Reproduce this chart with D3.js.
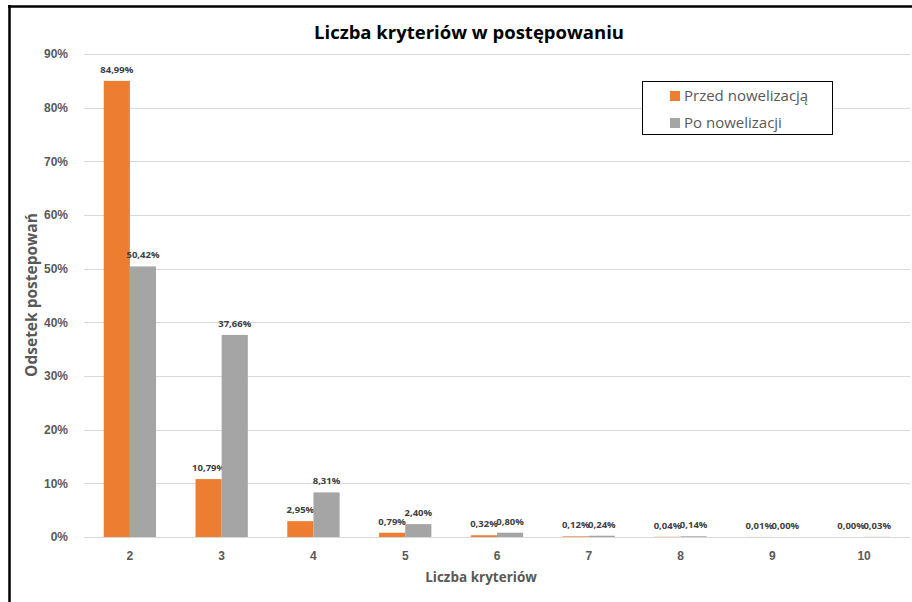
<!DOCTYPE html>
<html>
<head>
<meta charset="utf-8">
<script src="https://d3js.org/d3.v7.min.js"></script>
<style>
body { margin: 0; background: #fff; }
svg { display: block; font-family: "Open Sans", sans-serif; }
.grid line { stroke: #d9d9d9; stroke-width: 1px; }
.tick text { fill: #595959; font-weight: bold; }
.lbl { fill: #404040; font-weight: bold; font-size: 9.5px; }
</style>
</head>
<body>
<script>
var categories = ["2", "3", "4", "5", "6", "7", "8", "9", "10"];
var before = [84.99, 10.79, 2.95, 0.79, 0.32, 0.12, 0.04, 0.01, 0.00];
var after = [50.42, 37.66, 8.31, 2.40, 0.80, 0.24, 0.14, 0.00, 0.03];
var seriesNames = ["Przed nowelizacją", "Po nowelizacji"];
var colors = ["#ED7D31", "#A5A5A5"];
var yTicks = [0, 10, 20, 30, 40, 50, 60, 70, 80, 90];

var width = 912, height = 602;
var margin = {left: 84, right: 2, top: 54, bottom: 65};

var svg = d3.select("body").append("svg")
    .attr("width", width)
    .attr("height", height);

// frame
svg.append("line").attr("x1", 8).attr("x2", width).attr("y1", 6.5).attr("y2", 6.5)
    .attr("stroke", "#000").attr("stroke-width", 2.5);
svg.append("line").attr("x1", 9.5).attr("x2", 9.5).attr("y1", 5).attr("y2", height)
    .attr("stroke", "#000").attr("stroke-width", 2.5);

var x = d3.scaleBand()
    .domain(categories)
    .range([margin.left, width - margin.right])
    .paddingInner(0.43)
    .paddingOuter(0.215);

var y = d3.scaleLinear()
    .domain([0, 90])
    .range([height - margin.bottom, margin.top]);

// gridlines
svg.append("g")
    .attr("class", "grid")
    .selectAll("line")
    .data(yTicks)
  .enter().append("line")
    .attr("x1", margin.left)
    .attr("x2", width - margin.right)
    .attr("y1", function(d) { return Math.round(y(d)) + 0.5; })
    .attr("y2", function(d) { return Math.round(y(d)) + 0.5; });

// y axis
var yAxis = svg.append("g")
    .attr("transform", "translate(" + margin.left + ",0)")
    .call(d3.axisLeft(y).tickValues(yTicks).tickSize(0).tickPadding(16)
      .tickFormat(function(d) { return d + "%"; }));
yAxis.select(".domain").remove();
yAxis.selectAll("text").style("font-size", "12px");

// x axis
var xAxis = svg.append("g")
    .attr("transform", "translate(0," + (height - margin.bottom) + ")")
    .call(d3.axisBottom(x).tickSize(0).tickPadding(14));
xAxis.select(".domain").remove();
xAxis.selectAll("text").style("font-size", "12px");

var sub = d3.scaleBand()
    .domain([0, 1])
    .range([0, x.bandwidth()]);

var data = [before, after];

data.forEach(function(vals, s) {
  var g = svg.append("g");
  g.selectAll("rect")
      .data(vals)
    .enter().append("rect")
      .attr("x", function(d, i) { return x(categories[i]) + sub(s); })
      .attr("y", function(d) { return y(d); })
      .attr("width", sub.bandwidth())
      .attr("height", function(d) { return y(0) - y(d); })
      .attr("fill", colors[s]);
  g.selectAll("text")
      .data(vals)
    .enter().append("text")
      .attr("class", "lbl")
      .attr("x", function(d, i) { return x(categories[i]) + sub(s) + sub.bandwidth() / 2; })
      .attr("y", function(d) { return y(d) - 8; })
      .attr("text-anchor", "middle")
      .text(function(d) { return d.toFixed(2).replace(".", ",") + "%"; });
});

// title
svg.append("text")
    .attr("x", 469)
    .attr("y", 39)
    .attr("text-anchor", "middle")
    .style("font-size", "18.5px")
    .style("font-weight", "bold")
    .style("fill", "#000")
    .text("Liczba kryteriów w postępowaniu");

// axis titles
svg.append("text")
    .attr("x", 481)
    .attr("y", 582)
    .attr("text-anchor", "middle")
    .style("font-size", "13.5px")
    .style("font-weight", "bold")
    .style("fill", "#595959")
    .text("Liczba kryteriów");

svg.append("text")
    .attr("transform", "translate(37," + 295 + ") rotate(-90)")
    .attr("text-anchor", "middle")
    .style("font-size", "15.5px")
    .style("font-weight", "bold")
    .style("fill", "#595959")
    .text("Odsetek postepowań");

// legend
var legend = svg.append("g").attr("transform", "translate(642,81)");
legend.append("rect")
    .attr("x", 0.5).attr("y", 0.5)
    .attr("width", 190).attr("height", 53)
    .attr("fill", "#fff")
    .attr("stroke", "#000")
    .attr("stroke-width", 1);
seriesNames.forEach(function(name, i) {
  legend.append("rect")
      .attr("x", 28).attr("y", 10 + i * 27)
      .attr("width", 10).attr("height", 10)
      .attr("fill", colors[i]);
  legend.append("text")
      .attr("x", 42).attr("y", 20 + i * 27)
      .style("font-size", "15px")
      .style("fill", "#595959")
      .text(name);
});
</script>
</body>
</html>
